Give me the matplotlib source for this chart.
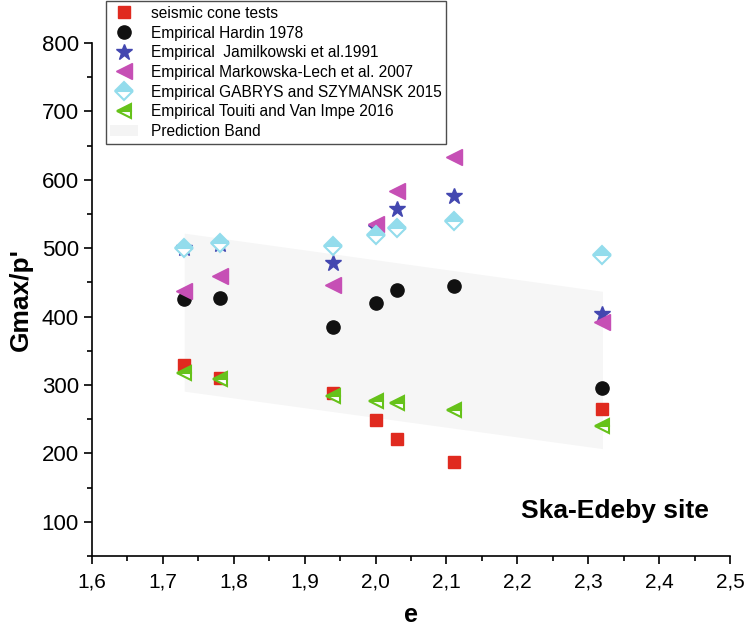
import matplotlib.pyplot as plt
from matplotlib.patches import Patch
from matplotlib.ticker import MultipleLocator, FuncFormatter

plt.rcParams['font.family'] = ['Liberation Sans', 'DejaVu Sans']

# void ratio of the tested layers
e = [1.73, 1.78, 1.94, 2.00, 2.03, 2.11, 2.32]

# Gmax/p' per method
seismic = [329, 310, 288, 249, 221, 188, 265]
hardin = [425, 427, 385, 420, 439, 445, 296]
jamilkowski = [500, 506, 478, 530, 557, 577, 404]
markowska = [437, 459, 446, 535, 583, 633, 392]
gabrys = [501, 507, 503, 520, 529, 540, 490]
touiti = [317, 309, 284, 277, 274, 263, 240]

# prediction band limits at both ends
band_e = [1.73, 2.32]
band_upper = [522, 437]
band_lower = [291, 207]

fig = plt.figure(figsize=(7.44, 6.36), dpi=100)
ax = fig.add_axes([0.1237, 0.1258, 0.8575, 0.8066])

ax.fill_between(band_e, band_lower, band_upper, color='#f6f6f6', lw=0, zorder=1)

ax.plot(e, seismic, 's', color='#e02a1f', ms=8.5, mec='#e02a1f', zorder=3)
ax.plot(e, hardin, 'o', color='#111111', ms=9.5, zorder=3)
ax.plot(e, jamilkowski, '*', color='#4347b0', ms=12, zorder=3)
ax.plot(e, markowska, '<', color='#c64fb5', ms=11, zorder=3)
ax.plot(e, gabrys, 'D', color='#93dcec', mec='#93dcec', mfc='#93dcec',
        markerfacecoloralt='white', fillstyle='top', ms=9, mew=1.5, zorder=3)
ax.plot(e, touiti, '<', color='#66c21a', mec='#66c21a', mfc='#66c21a',
        markerfacecoloralt='white', fillstyle='top', ms=10, mew=1.5, zorder=3)

ax.set_xlim(1.6, 2.5)
ax.set_ylim(50, 800)
ax.xaxis.set_major_locator(MultipleLocator(0.1))
ax.xaxis.set_minor_locator(MultipleLocator(0.05))
ax.yaxis.set_minor_locator(MultipleLocator(50))
ax.set_yticks([100, 200, 300, 400, 500, 600, 700, 800])
ax.xaxis.set_major_formatter(FuncFormatter(lambda v, p: f'{v:.1f}'.replace('.', ',')))

for side in ['top', 'right']:
    ax.spines[side].set_visible(False)
for side in ['left', 'bottom']:
    ax.spines[side].set_linewidth(1.2)
ax.tick_params(which='major', direction='out', length=6, width=1.2)
ax.tick_params(which='minor', direction='out', length=3.5, width=1.2)
ax.tick_params(axis='x', pad=6, labelsize=15)
ax.tick_params(axis='y', labelsize=16)

ax.set_xlabel('e', fontsize=18, fontweight='bold', labelpad=8)
ax.set_ylabel("Gmax/p'", fontsize=19, fontweight='bold', labelpad=6)

ax.text(0.82, 0.087, 'Ska-Edeby site', transform=ax.transAxes, fontsize=19,
        fontweight='bold', ha='center', va='center')

handles = ax.get_lines()
labels = ['seismic cone tests', 'Empirical Hardin 1978',
          'Empirical  Jamilkowski et al.1991',
          'Empirical Markowska-Lech et al. 2007',
          'Empirical GABRYS and SZYMANSK 2015',
          'Empirical Touiti and Van Impe 2016']
band_patch = Patch(facecolor='#f4f4f4', edgecolor='none')
leg = fig.legend(list(handles) + [band_patch], labels + ['Prediction Band'],
                 loc='upper left', bbox_to_anchor=(0.142, 0.998),
                 fontsize=11.2, frameon=True, fancybox=False, edgecolor='#222222',
                 labelspacing=0.3, handletextpad=0.8, borderpad=0.3,
                 handlelength=1.8, borderaxespad=0)
leg.get_frame().set_linewidth(1.0)

fig.savefig('out.png', dpi=100)
